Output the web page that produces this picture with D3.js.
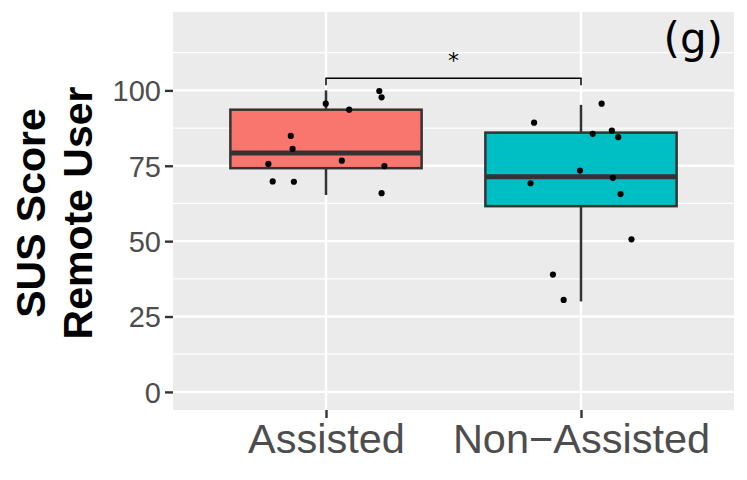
<!DOCTYPE html>
<html><head><meta charset="utf-8">
<script src="https://cdn.jsdelivr.net/npm/d3@7"></script>
<style>body{margin:0;background:#fff} svg{display:block}</style>
</head><body><svg id="c" width="747" height="480"></svg>
<script>
const categories = ["Assisted", "Non\u2212Assisted"];
const fills = ["#F8766D", "#00BFC4"];
const q1 = [74.2, 61.6];
const median = [79.2, 71.4];
const q3 = [93.6, 86.0];
const whiskerLow = [65.3, 30.0];
const whiskerHigh = [100.0, 95.2];
const assistedScores = [99.8, 97.7, 95.6, 93.6, 84.9, 80.6, 75.6, 76.7, 74.9, 69.8, 69.7, 65.9];
const assistedJitter = [0.209, 0.218, -0.001, 0.091, -0.138, -0.131, -0.226, 0.062, 0.229, -0.209, -0.126, 0.218];
const nonAssistedScores = [95.6, 89.3, 85.6, 86.7, 84.5, 73.4, 71.0, 69.2, 65.6, 50.6, 38.9, 30.5];
const nonAssistedJitter = [0.081, -0.184, 0.046, 0.121, 0.146, -0.004, 0.125, -0.198, 0.155, 0.198, -0.110, -0.068];
const yTicks = [0, 25, 50, 75, 100];
const yMinor = [12.5, 37.5, 62.5, 87.5, 112.5];
const yDomain = [-6, 126];
const signifLabel = "*";
const panelTag = "(g)";

const svg = d3.select("#c");
const L = 173, R = 734, T = 12, B = 410;
const x = d3.scalePoint().domain(categories).range([L, R]).padding(0.6);
const step = x.step();
const y = d3.scaleLinear().domain(yDomain).range([B, T]);

svg.append("rect").attr("x", L).attr("y", T).attr("width", R - L).attr("height", B - T).attr("fill", "#EBEBEB");

svg.append("g").selectAll("line").data(yMinor).join("line")
  .attr("x1", L).attr("x2", R).attr("y1", d => y(d)).attr("y2", d => y(d))
  .attr("stroke", "#fff").attr("stroke-width", 1.2);
svg.append("g").selectAll("line").data(yTicks).join("line")
  .attr("x1", L).attr("x2", R).attr("y1", d => y(d)).attr("y2", d => y(d))
  .attr("stroke", "#fff").attr("stroke-width", 2.4);
svg.append("g").selectAll("line").data(categories).join("line")
  .attr("x1", d => x(d)).attr("x2", d => x(d)).attr("y1", T).attr("y2", B)
  .attr("stroke", "#fff").attr("stroke-width", 2.4);

// axes
const yAxis = d3.axisLeft(y).tickValues(yTicks).tickSize(8).tickPadding(4);
const gy = svg.append("g").attr("transform", `translate(${L},0)`).call(yAxis);
gy.select(".domain").remove();
gy.selectAll(".tick line").attr("stroke", "#333").attr("stroke-width", 2.4);
gy.selectAll(".tick text").attr("fill", "#4D4D4D").style("font-family", "Liberation Sans, Arial, sans-serif").style("font-size", "29px").attr("dy", "0.36em");

const xAxis = d3.axisBottom(x).tickSize(8).tickPadding(6);
const gx = svg.append("g").attr("transform", `translate(0,${B})`).call(xAxis);
gx.select(".domain").remove();
gx.selectAll(".tick line").attr("stroke", "#333").attr("stroke-width", 2.4);
gx.selectAll(".tick text").attr("fill", "#4D4D4D").style("font-family", "Liberation Sans, Arial, sans-serif").style("font-size", "41.5px").attr("dy", "0.7em");

// boxes
const boxes = categories.map((c, i) => ({c, i}));
const bw = 0.75 * step;
const gb = svg.append("g");
gb.selectAll(".wh").data(boxes).join("line")
  .attr("x1", d => x(d.c)).attr("x2", d => x(d.c))
  .attr("y1", d => y(q3[d.i])).attr("y2", d => y(whiskerHigh[d.i]))
  .attr("stroke", "#333").attr("stroke-width", 2.5);
gb.selectAll(".wl").data(boxes).join("line")
  .attr("x1", d => x(d.c)).attr("x2", d => x(d.c))
  .attr("y1", d => y(q1[d.i])).attr("y2", d => y(whiskerLow[d.i]))
  .attr("stroke", "#333").attr("stroke-width", 2.5);
gb.selectAll("rect").data(boxes).join("rect")
  .attr("x", d => x(d.c) - bw / 2).attr("width", bw)
  .attr("y", d => y(q3[d.i])).attr("height", d => y(q1[d.i]) - y(q3[d.i]))
  .attr("fill", d => fills[d.i]).attr("stroke", "#333").attr("stroke-width", 2.5);
gb.selectAll(".med").data(boxes).join("line")
  .attr("x1", d => x(d.c) - bw / 2).attr("x2", d => x(d.c) + bw / 2)
  .attr("y1", d => y(median[d.i])).attr("y2", d => y(median[d.i]))
  .attr("stroke", "#333").attr("stroke-width", 5);

// points
const pts = [];
assistedScores.forEach((v, k) => pts.push({c: categories[0], v, j: assistedJitter[k]}));
nonAssistedScores.forEach((v, k) => pts.push({c: categories[1], v, j: nonAssistedJitter[k]}));
svg.append("g").selectAll("circle").data(pts).join("circle")
  .attr("cx", d => x(d.c) + d.j * step).attr("cy", d => y(d.v)).attr("r", 3.1).attr("fill", "#000");

// significance bracket
const bTop = y(104), bLow = y(101.7);
const x0 = x(categories[0]), x1 = x(categories[1]);
svg.append("path").attr("d", `M${x0},${bLow}V${bTop}H${x1}V${bLow}`)
  .attr("fill", "none").attr("stroke", "#000").attr("stroke-width", 1.5);
svg.append("text").attr("x", (x0 + x1) / 2).attr("y", 68).attr("text-anchor", "middle")
  .style("font-family", "DejaVu Sans, sans-serif").style("font-size", "22px").text(signifLabel);

svg.append("text").attr("x", 723).attr("y", 53).attr("text-anchor", "end")
  .style("font-family", "DejaVu Sans, sans-serif").style("font-size", "42px").attr("fill", "#000").text(panelTag);

// y title
const yt = svg.append("text").attr("transform", "translate(0,213) rotate(-90)")
  .attr("text-anchor", "middle").style("font-family", "Liberation Sans, Arial, sans-serif")
  .style("font-size", "41px").style("font-weight", "bold").attr("fill", "#000");
yt.append("tspan").attr("x", 0).attr("y", 45).text("SUS Score");
yt.append("tspan").attr("x", 0).attr("y", 92).text("Remote User");
</script></body></html>
